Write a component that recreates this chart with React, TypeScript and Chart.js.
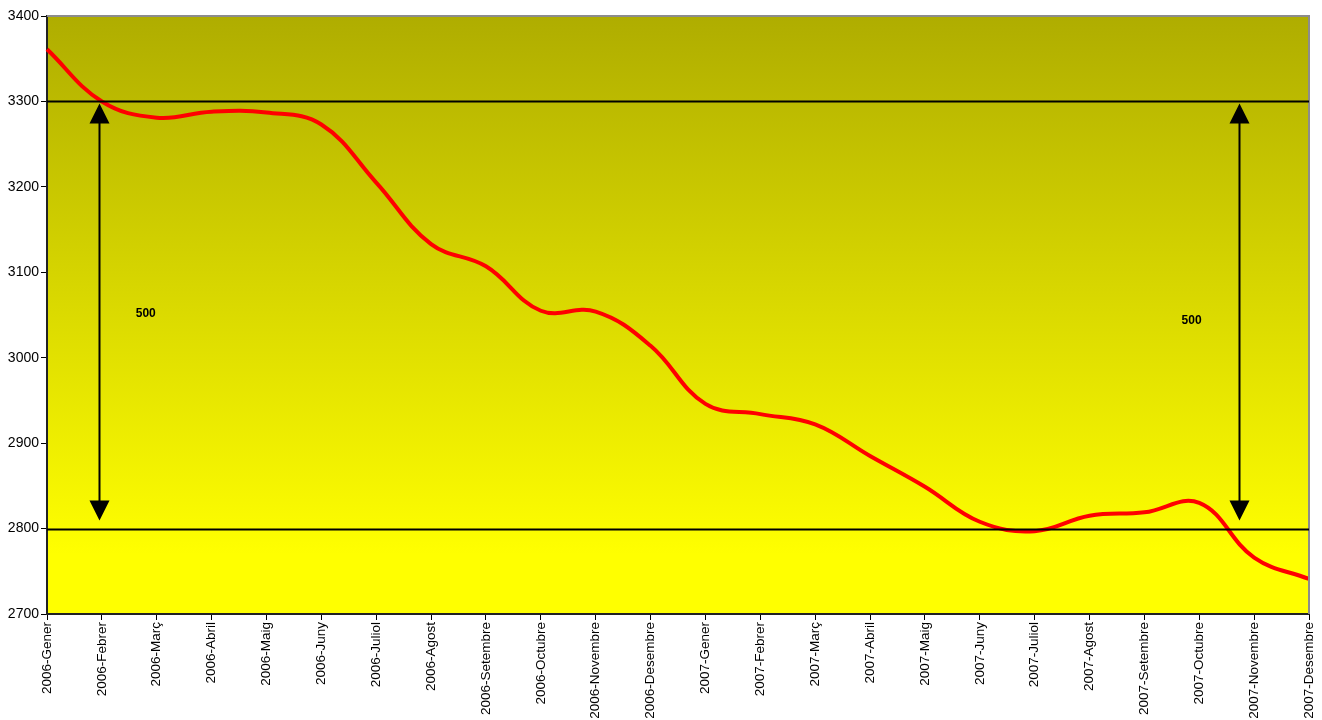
import React, { useEffect, useRef } from "react";
import { Chart, registerables } from "chart.js";

Chart.register(...registerables);

const categories = [
  "2006-Gener", "2006-Febrer", "2006-Març", "2006-Abril", "2006-Maig", "2006-Juny",
  "2006-Juliol", "2006-Agost", "2006-Setembre", "2006-Octubre", "2006-Novembre", "2006-Desembre",
  "2007-Gener", "2007-Febrer", "2007-Març", "2007-Abril", "2007-Maig", "2007-Juny",
  "2007-Juliol", "2007-Agost", "2007-Setembre", "2007-Octubre", "2007-Novembre", "2007-Desembre",
];

const values = [
  3361, 3300, 3281, 3288, 3287, 3273,
  3205, 3133, 3107, 3055, 3054, 3014,
  2946, 2934, 2922, 2885, 2849, 2808,
  2797, 2815, 2819, 2830, 2766, 2741,
];

const yTicks = [2700, 2800, 2900, 3000, 3100, 3200, 3300, 3400];
const refLines = [3300, 2800];
const arrowIdx = [0.95, 21.72];
const arrowLabelIdx = [1.8, 20.86];
const arrowLabelVal = [3051, 3043];
const arrowLabel = "500";

const overlayPlugin = {
  id: "overlay",
  beforeDraw(chart: any) {
    const { ctx, chartArea } = chart;
    const { left, top, right, bottom } = chartArea;
    const g = ctx.createLinearGradient(0, top, 0, bottom);
    g.addColorStop(0, "#AFAD00");
    g.addColorStop(0.9, "#FFFF00");
    g.addColorStop(1, "#FFFF00");
    ctx.save();
    ctx.fillStyle = g;
    ctx.fillRect(left, top, right - left, bottom - top);
    ctx.restore();
  },
  afterDatasetsDraw(chart: any) {
    const { ctx, chartArea, scales } = chart;
    const { left, top, right, bottom } = chartArea;
    const x = scales.x;
    const y = scales.y;
    ctx.save();
    ctx.strokeStyle = "#8c8c8c";
    ctx.lineWidth = 2;
    ctx.beginPath();
    ctx.moveTo(left, top);
    ctx.lineTo(right, top);
    ctx.lineTo(right, bottom);
    ctx.stroke();
    ctx.strokeStyle = "#000";
    ctx.lineWidth = 2;
    refLines.forEach((v) => {
      const py = Math.round(y.getPixelForValue(v)) + 0.5;
      ctx.beginPath();
      ctx.moveTo(left, py);
      ctx.lineTo(right, py);
      ctx.stroke();
    });
    const yTop = y.getPixelForValue(refLines[0]) + 2;
    const yBot = y.getPixelForValue(refLines[1]) - 8;
    arrowIdx.forEach((i) => {
      const px = Math.round(x.getPixelForValue(i)) + 0.5;
      ctx.strokeStyle = "#000";
      ctx.lineWidth = 2;
      ctx.beginPath();
      ctx.moveTo(px, yTop + 18);
      ctx.lineTo(px, yBot - 18);
      ctx.stroke();
      ctx.fillStyle = "#000";
      ctx.beginPath();
      ctx.moveTo(px, yTop);
      ctx.lineTo(px - 10, yTop + 20);
      ctx.lineTo(px + 10, yTop + 20);
      ctx.closePath();
      ctx.fill();
      ctx.beginPath();
      ctx.moveTo(px, yBot);
      ctx.lineTo(px - 10, yBot - 20);
      ctx.lineTo(px + 10, yBot - 20);
      ctx.closePath();
      ctx.fill();
    });
    ctx.fillStyle = "#000";
    ctx.font = "bold 12px 'Liberation Sans', Arial, sans-serif";
    ctx.textAlign = "center";
    ctx.textBaseline = "middle";
    arrowLabelIdx.forEach((i, k) => {
      ctx.fillText(arrowLabel, x.getPixelForValue(i), y.getPixelForValue(arrowLabelVal[k]));
    });
    ctx.restore();
  },
};

export default function App() {
  const ref = useRef<HTMLCanvasElement>(null);
  useEffect(() => {
    if (!ref.current) return;
    const chart = new Chart(ref.current, {
      type: "line",
      data: {
        labels: categories,
        datasets: [
          {
            data: values,
            borderColor: "#FF0000",
            borderWidth: 4,
            pointRadius: 0,
            tension: 0.4,
            fill: false,
          },
        ],
      },
      options: {
        animation: false,
        responsive: false,
        maintainAspectRatio: false,
        layout: { padding: { left: 0, right: 13, top: 16, bottom: 0 } },
        plugins: { legend: { display: false }, tooltip: { enabled: false } },
        scales: {
          x: {
            type: "category",
            offset: false,
            afterFit: (s: any) => {
              s.height = 106;
              s.paddingLeft = 0;
              s.paddingRight = 0;
            },
            grid: {
              drawOnChartArea: false,
              drawTicks: true,
              tickLength: 6,
              color: "#000",
            },
            border: { color: "#222", width: 2 },
            ticks: {
              autoSkip: false,
              minRotation: 90,
              maxRotation: 90,
              padding: 2,
              color: "#000",
              font: { family: "'Liberation Sans', Arial, sans-serif", size: 13.5 },
            },
          },
          y: {
            min: 2700,
            max: 3400,
            afterFit: (s: any) => {
              s.width = 47;
              s.paddingTop = 0;
              s.paddingBottom = 0;
            },
            afterBuildTicks: (s: any) => {
              s.ticks = yTicks.map((v) => ({ value: v }));
            },
            grid: {
              drawOnChartArea: false,
              drawTicks: true,
              tickLength: 6,
              color: "#000",
            },
            border: { color: "#222", width: 2 },
            ticks: {
              padding: 2,
              color: "#000",
              callback: (v: any) => String(v),
              font: { family: "'Liberation Sans', Arial, sans-serif", size: 14 },
            },
          },
        },
      },
      plugins: [overlayPlugin],
    });
    return () => chart.destroy();
  }, []);
  return (
    <div style={{ position: "fixed", left: 0, top: 0, width: 1322, height: 720, background: "#fff" }}>
      <canvas ref={ref} width={1322} height={720} style={{ width: 1322, height: 720 }} />
    </div>
  );
}
